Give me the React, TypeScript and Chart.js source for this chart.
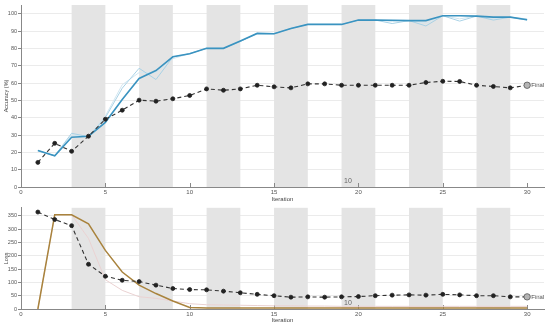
import React, { useEffect, useRef } from "react";
import { Chart, registerables } from "chart.js";

Chart.register(...registerables);

// ---------- data ----------
const iterations = [1, 2, 3, 4, 5, 6, 7, 8, 9, 10, 11, 12, 13, 14, 15, 16, 17, 18, 19, 20, 21, 22, 23, 24, 25, 26, 27, 28, 29, 30];

const bandStarts = [3, 7, 11, 15, 19, 23, 27];
const bandWidth = 2;

const xTicks = [0, 5, 10, 15, 20, 25, 30];
const accuracyTicks = [0, 10, 20, 30, 40, 50, 60, 70, 80, 90, 100];
const lossTicks = [0, 50, 100, 150, 200, 250, 300, 350];

const accuracyFinal = [14.2, 25.2, 20.6, 29.3, 39.1, 44.3, 50.1, 49.5, 50.9, 52.8, 56.6, 55.8, 56.6, 58.7, 57.8, 57.2, 59.5, 59.5, 58.7, 58.7, 58.7, 58.7, 58.7, 60.3, 61, 60.9, 58.7, 58, 57.2, 58.7];
const accuracyMain = [21, 18, 28.7, 29.3, 37.3, 50.5, 62.6, 67.2, 75.1, 76.9, 80, 80, 84.2, 88.6, 88.4, 91.5, 93.8, 93.8, 93.8, 96.3, 96.3, 96.2, 96, 96, 98.8, 98.8, 98.6, 98, 98, 96.5];
const accuracyLightA = [21, 18, 31, 29, 40, 57, 68.5, 62, 75, 77, 80, 80, 84, 88.6, 88.4, 91.5, 93.8, 93.8, 93.8, 96.3, 96.3, 94.3, 96, 92.9, 98.8, 95.7, 98.6, 96.3, 98, 96.3];
const accuracyLightB = [21, 18, 30, 29, 41, 59, 66, 66, 74, 77, 80, 80, 84, 88.6, 88.4, 91.5, 93.8, 93.8, 93.8, 96.3, 96.3, 95.5, 96, 94.5, 98.8, 97, 98.6, 97, 98, 97];

const lossFinal = [364, 336, 313, 168, 123, 108, 103, 89.6, 77, 73, 72, 67, 61, 55, 50, 44.4, 45.6, 44.4, 45.6, 46.8, 50, 52, 53, 52, 55, 53, 50, 50, 45.6, 45.6];
const lossMain = [0, 354, 354, 320, 220, 139, 89.6, 58, 30, 6, 4, 4, 4, 4, 4, 4, 4, 4, 4, 4, 4, 4, 4, 4, 4, 4, 4, 4, 4, 4];
const lossLight = [0, 354, 354, 265, 110, 70, 46, 40, 30, 20, 16, 15, 14, 13, 12, 12, 11, 11, 10, 10, 10, 10, 10, 10, 10, 10, 10, 10, 10, 10];

const FONT = "'Liberation Sans', 'DejaVu Sans', Arial, sans-serif";

const pts = (arr: number[]) => iterations.map((it, i) => ({ x: it, y: arr[i] }));

function makePlugin(finalData: number[], noteY: number) {
  return {
    id: "decor",
    beforeDatasetsDraw(chart: any) {
      const { ctx, chartArea, scales } = chart;
      const x = scales.x;
      ctx.save();
      ctx.fillStyle = "#e4e4e4";
      bandStarts.forEach((s) => {
        const a = x.getPixelForValue(s);
        const b = x.getPixelForValue(s + bandWidth);
        ctx.fillRect(a, chartArea.top, b - a, chartArea.bottom - chartArea.top);
      });
      ctx.strokeStyle = "#888";
      ctx.lineWidth = 1;
      xTicks.forEach((t) => {
        const p = Math.round(x.getPixelForValue(t)) + 0.5;
        ctx.beginPath();
        ctx.moveTo(p, chartArea.bottom);
        ctx.lineTo(p, chartArea.bottom - 4);
        ctx.stroke();
      });
      ctx.restore();
    },
    afterDatasetsDraw(chart: any) {
      const { ctx, scales } = chart;
      const x = scales.x;
      const y = scales.y;
      ctx.save();
      const last = iterations.length - 1;
      const fx = x.getPixelForValue(iterations[last]);
      const fy = y.getPixelForValue(finalData[last]);
      ctx.fillStyle = "#555";
      ctx.font = `6px ${FONT}`;
      ctx.textBaseline = "middle";
      ctx.textAlign = "left";
      ctx.fillText("Final", fx + 4, fy);
      ctx.fillStyle = "#666";
      ctx.font = `7px ${FONT}`;
      ctx.textAlign = "left";
      ctx.textBaseline = "middle";
      ctx.fillText("10", x.getPixelForValue(19.15), y.getPixelForValue(noteY));
      ctx.restore();
    },
  };
}

function buildConfig(opts: {
  datasets: any[];
  yMax: number;
  yTicks: number[];
  yTitle: string;
  xHeight: number;
  padTop: number;
  finalData: number[];
  noteY: number;
  xTitlePad: number;
}) {
  return {
    type: "line",
    data: { datasets: opts.datasets },
    options: {
      animation: false,
      responsive: false,
      devicePixelRatio: 1,
      layout: { padding: { top: opts.padTop, right: 6, left: 0, bottom: 0 } },
      plugins: { legend: { display: false }, tooltip: { enabled: false } },
      elements: { line: { tension: 0 } },
      scales: {
        x: {
          type: "linear",
          min: 0,
          max: 31,
          afterBuildTicks: (s: any) => {
            s.ticks = xTicks.map((v) => ({ value: v }));
          },
          afterFit: (s: any) => {
            s.height = opts.xHeight;
          },
          grid: { display: false, drawTicks: false },
          border: { display: true, color: "#888", width: 1 },
          ticks: { font: { size: 6, family: FONT }, color: "#555", padding: 2, maxRotation: 0 },
          title: {
            display: true,
            text: "Iteration",
            font: { size: 6, family: FONT },
            color: "#444",
            padding: { top: 0, bottom: opts.xTitlePad },
          },
        },
        y: {
          type: "linear",
          min: 0,
          max: opts.yMax,
          afterBuildTicks: (s: any) => {
            s.ticks = opts.yTicks.map((v) => ({ value: v }));
          },
          afterFit: (s: any) => {
            s.width = 21;
          },
          grid: { display: true, color: "#ebebeb", tickColor: "#888", tickLength: 3, drawTicks: true },
          border: { display: true, color: "#888", width: 1 },
          ticks: { font: { size: 5.5, family: FONT }, color: "#555", padding: 1 },
          title: {
            display: true,
            text: opts.yTitle,
            font: { size: 5.5, family: FONT },
            color: "#444",
            padding: { top: 3, bottom: 0 },
          },
        },
      },
    },
    plugins: [makePlugin(opts.finalData, opts.noteY)],
  } as any;
}

const finalRadius = (c: any) => (c.dataIndex === iterations.length - 1 ? 3.2 : 2);
const finalFill = (c: any) => (c.dataIndex === iterations.length - 1 ? "#b5b5b5" : "#222");
const finalBorder = (c: any) => (c.dataIndex === iterations.length - 1 ? "#555" : "#222");

function ChartCanvas({ config, width, height, top }: { config: () => any; width: number; height: number; top: number }) {
  const ref = useRef<HTMLCanvasElement | null>(null);
  useEffect(() => {
    if (!ref.current) return;
    const chart = new Chart(ref.current, config());
    return () => chart.destroy();
  }, []);
  return (
    <canvas
      ref={ref}
      width={width}
      height={height}
      style={{ position: "absolute", left: 0, top, width, height, display: "block" }}
    />
  );
}

export default function App() {
  const topConfig = () =>
    buildConfig({
      yMax: 105,
      yTicks: accuracyTicks,
      yTitle: "Accuracy (%)",
      xHeight: 16,
      padTop: 5,
      finalData: accuracyFinal,
      noteY: 3.6,
      xTitlePad: 0.5,
      datasets: [
        {
          data: pts(accuracyFinal),
          borderColor: "#333",
          borderWidth: 1.1,
          borderDash: [4, 3],
          pointRadius: finalRadius,
          pointBackgroundColor: finalFill,
          pointBorderColor: finalBorder,
          pointBorderWidth: 0.8,
        },
        {
          data: pts(accuracyMain),
          borderColor: "#3a93c0",
          borderWidth: 1.6,
          pointRadius: 0,
        },
        {
          data: pts(accuracyLightA),
          borderColor: "#a9d2e6",
          borderWidth: 1,
          pointRadius: 0,
        },
        {
          data: pts(accuracyLightB),
          borderColor: "#d3e7f1",
          borderWidth: 1,
          pointRadius: 0,
        },
      ],
    });

  const bottomConfig = () =>
    buildConfig({
      yMax: 380,
      yTicks: lossTicks,
      yTitle: "Loss",
      xHeight: 18,
      padTop: 4,
      finalData: lossFinal,
      noteY: 22,
      xTitlePad: 3,
      datasets: [
        {
          data: pts(lossFinal),
          borderColor: "#333",
          borderWidth: 1.1,
          borderDash: [4, 3],
          pointRadius: finalRadius,
          pointBackgroundColor: finalFill,
          pointBorderColor: finalBorder,
          pointBorderWidth: 0.8,
        },
        {
          data: pts(lossMain),
          borderColor: "#a9833d",
          borderWidth: 1.5,
          pointRadius: 0,
        },
        {
          data: pts(lossLight),
          borderColor: "#ead2d2",
          borderWidth: 1,
          pointRadius: 0,
        },
      ],
    });

  return (
    <div style={{ position: "fixed", left: 0, top: 0, width: 550, height: 327, background: "#fff", overflow: "hidden" }}>
      <ChartCanvas config={topConfig} width={550} height={203} top={0} />
      <ChartCanvas config={bottomConfig} width={550} height={124} top={203} />
    </div>
  );
}
